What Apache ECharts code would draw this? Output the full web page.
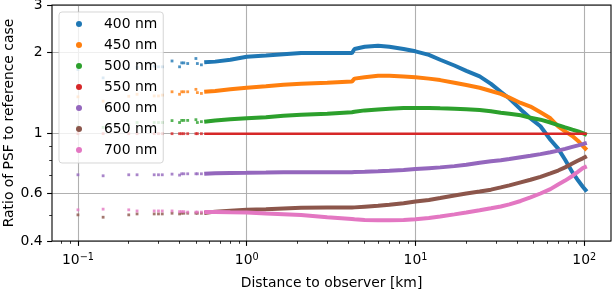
<!DOCTYPE html>
<html><head><meta charset="utf-8">
<script src="https://cdn.jsdelivr.net/npm/echarts@6/dist/echarts.min.js"></script>
<style>html,body{margin:0;padding:0;background:#fff}#c{width:613px;height:289px}</style>
</head><body><div id="c"></div>
<script>
const seriesNames = ['400 nm','450 nm','500 nm','550 nm','600 nm','650 nm','700 nm'];
const seriesColors = ['#1f77b4','#ff7f0e','#2ca02c','#d62728','#9467bd','#8c564b','#e377c2'];

// sparse (individually visible) points at short distances [km]
const sparseX = [0.1, 0.141, 0.2, 0.224, 0.283, 0.3, 0.316, 0.361, 0.4, 0.412, 0.424, 0.447, 0.5, 0.51, 0.539];
const sparse400 = [1.73, 1.61, 1.75, 1.76, 1.78, 1.77, 1.77, 1.86, 1.77, 1.83, 1.83, 1.82, 1.90, 1.82, 1.80];
const sparse450 = [1.37, 1.32, 1.376, 1.40, 1.38, 1.38, 1.39, 1.43, 1.40, 1.43, 1.43, 1.43, 1.46, 1.42, 1.41];
const sparse500 = [1.06, 1.055, 1.08, 1.10, 1.10, 1.10, 1.10, 1.118, 1.10, 1.12, 1.12, 1.12, 1.127, 1.10, 1.108];
const sparse550 = [1, 1, 1, 1, 1, 1, 1, 1, 1, 1, 1, 1, 1, 1, 1];
const sparse600 = [0.704, 0.698, 0.704, 0.704, 0.704, 0.704, 0.704, 0.708, 0.702, 0.71, 0.71, 0.71, 0.71, 0.71, 0.71];
const sparse650 = [0.50, 0.49, 0.50, 0.504, 0.504, 0.504, 0.504, 0.507, 0.504, 0.507, 0.507, 0.507, 0.507, 0.507, 0.507];
const sparse700 = [0.522, 0.525, 0.522, 0.517, 0.517, 0.517, 0.517, 0.517, 0.514, 0.514, 0.514, 0.512, 0.512, 0.512, 0.512];

// dense band of points (read along the band)
const denseX = [0.56, 0.65, 0.8, 1.0, 1.3, 1.65, 2.1, 3.0, 4.2, 4.35, 5.0, 6.0, 7.0, 8.5, 10, 12, 14, 17, 20, 24, 28, 32, 36, 42, 48, 55, 63, 70, 77, 85, 92, 98, 103.5];
const dense400 = [1.84, 1.85, 1.88, 1.93, 1.95, 1.97, 1.99, 1.99, 1.99, 2.06, 2.10, 2.12, 2.10, 2.06, 2.02, 1.96, 1.88, 1.79, 1.71, 1.63, 1.53, 1.43, 1.35, 1.23, 1.14, 1.065, 0.95, 0.88, 0.80, 0.72, 0.67, 0.636, 0.61];
const dense450 = [1.43, 1.44, 1.46, 1.48, 1.50, 1.52, 1.53, 1.545, 1.56, 1.60, 1.62, 1.64, 1.64, 1.63, 1.62, 1.60, 1.58, 1.545, 1.515, 1.48, 1.44, 1.405, 1.36, 1.30, 1.26, 1.20, 1.14, 1.065, 1.02, 0.98, 0.94, 0.90, 0.87];
const dense500 = [1.108, 1.12, 1.13, 1.14, 1.15, 1.166, 1.175, 1.185, 1.20, 1.205, 1.22, 1.23, 1.238, 1.244, 1.246, 1.246, 1.242, 1.238, 1.232, 1.224, 1.21, 1.195, 1.185, 1.17, 1.145, 1.127, 1.10, 1.075, 1.055, 1.035, 1.02, 1.005, 0.99];
const dense550 = [1, 1, 1, 1, 1, 1, 1, 1, 1, 1, 1, 1, 1, 1, 1, 1, 1, 1, 1, 1, 1, 1, 1, 1, 1, 1, 1, 1, 1, 1, 1, 1, 1];
const dense600 = [0.71, 0.714, 0.715, 0.716, 0.718, 0.72, 0.72, 0.72, 0.72, 0.721, 0.722, 0.725, 0.728, 0.733, 0.739, 0.745, 0.75, 0.758, 0.767, 0.78, 0.79, 0.797, 0.805, 0.818, 0.828, 0.84, 0.853, 0.865, 0.878, 0.893, 0.905, 0.915, 0.925];
const dense650 = [0.508, 0.514, 0.518, 0.522, 0.525, 0.528, 0.531, 0.532, 0.532, 0.533, 0.536, 0.54, 0.545, 0.552, 0.56, 0.568, 0.577, 0.59, 0.60, 0.61, 0.62, 0.632, 0.643, 0.66, 0.675, 0.692, 0.712, 0.73, 0.75, 0.775, 0.795, 0.81, 0.825];
const dense700 = [0.512, 0.512, 0.511, 0.51, 0.506, 0.503, 0.499, 0.49, 0.483, 0.482, 0.479, 0.478, 0.478, 0.479, 0.482, 0.487, 0.493, 0.502, 0.51, 0.52, 0.529, 0.537, 0.547, 0.563, 0.58, 0.60, 0.623, 0.648, 0.67, 0.697, 0.723, 0.745, 0.756];

const xMajorTicks = [0.1, 1, 10, 100];
const xMinorTicks = [0.08, 0.09, 0.2, 0.3, 0.4, 0.5, 0.6, 0.7, 0.8, 0.9, 2, 3, 4, 5, 6, 7, 8, 9, 20, 30, 40, 50, 60, 70, 80, 90];
const yMajorTicks = [0.4, 0.6, 1, 2, 3];
const yMinorTicks = [0.5, 0.7, 0.8, 0.9];

const sparseY = [sparse400, sparse450, sparse500, sparse550, sparse600, sparse650, sparse700];
const denseY = [dense400, dense450, dense500, dense550, dense600, dense650, dense700];

const FONT = 'DejaVu Sans';
const FS = 13.9;
const chart = echarts.init(document.getElementById('c'), null, {renderer: 'canvas'});

const series = [];
seriesNames.forEach((name, k) => {
  const color = seriesColors[k];
  series.push({
    type: 'line', name: name, xAxisIndex: 0, yAxisIndex: 0,
    data: denseX.map((x, i) => [x, denseY[k][i]]),
    showSymbol: false, symbol: 'none', smooth: false,
    lineStyle: {color: color, width: k === 3 ? 2.5 : 4},
    itemStyle: {color: color}, silent: true
  });
  series.push({
    type: 'scatter', name: name, xAxisIndex: 0, yAxisIndex: 0,
    data: sparseX.map((x, i) => [x, sparseY[k][i]]),
    symbol: 'rect', symbolSize: 2.8,
    itemStyle: {color: color}, silent: true
  });
});

function supLabel(v) {
  const e = Math.round(Math.log10(v));
  return '{b|10}{s|' + (e < 0 ? '\u2212' + (-e) : String(e)) + '}';
}

const option = {
  animation: false,
  backgroundColor: '#fff',
  textStyle: {fontFamily: FONT},
  grid: {left: 52, top: 5, width: 559, height: 236, show: true, borderColor: '#000', borderWidth: 1.1,
    backgroundColor: 'transparent', z: 5, containLabel: false, outerBoundsMode: 'none'},
  legend: {
    show: true, orient: 'vertical', left: 59, top: 12,
    data: seriesNames.map(n => ({name: n, icon: 'circle'})),
    itemWidth: 6, itemHeight: 6, itemGap: 5,
    padding: [4, 6, 5, 17],
    backgroundColor: 'rgba(255,255,255,0.8)', borderColor: 'rgba(204,204,204,0.8)', borderWidth: 1, borderRadius: 3,
    textStyle: {fontFamily: FONT, fontSize: FS, color: '#000', lineHeight: 16, padding: [0, 0, 0, 17]},
    selectedMode: false, z: 10
  },
  xAxis: [{
    type: 'log', logBase: 10, min: 0.0702, max: 144, gridIndex: 0, position: 'bottom',
    axisLine: {show: false},
    axisTick: {show: true, customValues: xMajorTicks, length: 4.9, lineStyle: {color: '#000', width: 1.1}},
    minorTick: {show: false},
    axisLabel: {customValues: xMajorTicks, formatter: supLabel, margin: 11.3, color: '#000',
      rich: {b: {fontFamily: FONT, fontSize: FS, lineHeight: 16, color: '#000'},
             s: {fontFamily: FONT, fontSize: 9.7, lineHeight: 10, verticalAlign: 'top', color: '#000'}}},
    splitLine: {show: true, lineStyle: {color: '#b0b0b0', width: 1.1}},
    name: 'Distance to observer [km]', nameLocation: 'middle', nameGap: 35, nameMoveOverlap: false,
    nameTextStyle: {fontFamily: FONT, fontSize: FS, color: '#000'}
  }, {
    type: 'log', logBase: 10, min: 0.0702, max: 144, gridIndex: 0, position: 'bottom',
    axisLine: {show: false}, axisLabel: {show: false}, splitLine: {show: false},
    axisTick: {show: true, customValues: xMinorTicks, length: 2.8, lineStyle: {color: '#000', width: 0.8}}
  }],
  yAxis: [{
    type: 'log', logBase: 10, min: 0.4, max: 3, gridIndex: 0, position: 'left',
    axisLine: {show: false},
    axisTick: {show: true, customValues: yMajorTicks, length: 4.9, lineStyle: {color: '#000', width: 1.1}},
    minorTick: {show: false},
    axisLabel: {customValues: yMajorTicks, formatter: v => String(v), margin: 9.3, color: '#000', fontFamily: FONT, fontSize: FS},
    splitLine: {show: true, lineStyle: {color: '#b0b0b0', width: 1.1}},
    name: 'Ratio of PSF to reference case', nameLocation: 'middle', nameGap: 36, nameMoveOverlap: false,
    nameTextStyle: {fontFamily: FONT, fontSize: FS, color: '#000'}
  }, {
    type: 'log', logBase: 10, min: 0.4, max: 3, gridIndex: 0, position: 'left',
    axisLine: {show: false}, axisLabel: {show: false}, splitLine: {show: false},
    axisTick: {show: true, customValues: yMinorTicks, length: 2.8, lineStyle: {color: '#000', width: 0.8}}
  }],
  series: series
};
chart.setOption(option);
</script>
</body></html>
